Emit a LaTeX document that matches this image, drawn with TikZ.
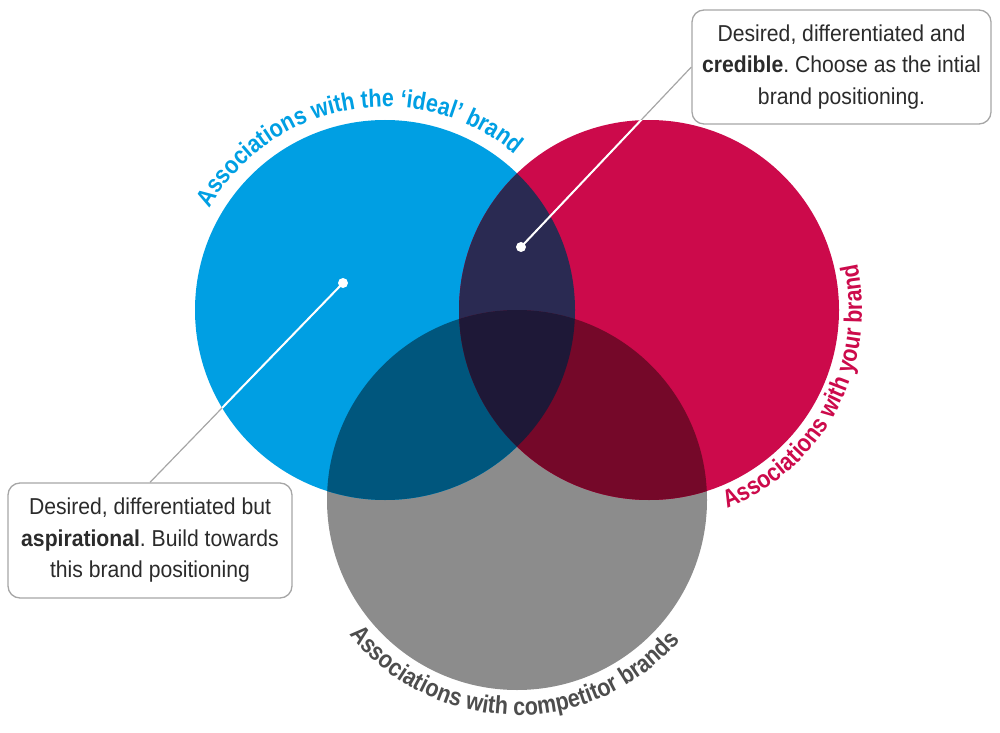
\documentclass[tikz,border=0pt]{standalone}
\usepackage{fontspec}
\setmainfont{Liberation Sans}
\newfontfamily\boxfont[FakeStretch=0.92]{Liberation Sans}
\newfontfamily\arcfont[FakeStretch=0.86]{Liberation Sans}
\usepackage{tikz}
\usetikzlibrary{decorations.text, positioning}
\frenchspacing

\definecolor{idealblue}{HTML}{009FE3}
\definecolor{yourred}{HTML}{CC0A4B}
\definecolor{rivalgray}{HTML}{8C8C8C}
\definecolor{bluered}{HTML}{2A2A52}
\definecolor{bluegray}{HTML}{00567D}
\definecolor{redgray}{HTML}{750829}
\definecolor{allthree}{HTML}{1E1837}
\definecolor{boxgray}{HTML}{A6A6A6}
\definecolor{textgray}{HTML}{2B2B2B}
\definecolor{labelgray}{HTML}{4D4D4D}

\tikzset{
  callout/.style={draw=boxgray, line width=1.3pt, rounded corners=12pt, fill=white,
    text=textgray, align=center, inner sep=4pt,
    font=\boxfont\fontsize{23}{31.5}\selectfont},
  leader/.style={draw=boxgray, line width=1.2pt},
  inleader/.style={draw=white, line width=2pt},
  arclabel/.style={decorate, decoration={text along path, text align=center,
    text color=#1}},
}

\begin{document}
\begin{tikzpicture}[x=1pt, y=1pt]
  \useasboundingbox (0,0) rectangle (1000,732);

  \coordinate (ideal) at (385,422);
  \coordinate (yours) at (649,422);
  \coordinate (rival) at (517,232);

  % the three sets
  \fill[rivalgray] (rival) circle[radius=190];
  \fill[idealblue] (ideal) circle[radius=190];
  \fill[yourred] (yours) circle[radius=190];
  \begin{scope}
    \clip (ideal) circle[radius=190];
    \fill[bluered] (yours) circle[radius=190];
    \fill[bluegray] (rival) circle[radius=190];
  \end{scope}
  \begin{scope}
    \clip (yours) circle[radius=190];
    \fill[redgray] (rival) circle[radius=190];
  \end{scope}
  \begin{scope}
    \clip (ideal) circle[radius=190];
    \clip (yours) circle[radius=190];
    \fill[allthree] (rival) circle[radius=190];
  \end{scope}

  % curved labels
  \path[arclabel=idealblue, decoration={text={|\arcfont\fontsize{25}{28}\selectfont\bfseries|Associations with the ‘ideal’ brand}}]
    (ideal) ++(160:203) arc[start angle=160, end angle=40, radius=203];
  \path[arclabel=yourred, decoration={text={|\arcfont\fontsize{25}{28}\selectfont\bfseries|Associations with your brand}}]
    (yours) ++(-90:213) arc[start angle=-90, end angle=34, radius=213];
  \path[arclabel=labelgray, decoration={text={|\arcfont\fontsize{25}{28}\selectfont\bfseries|Associations with competitor brands}}]
    (rival) ++(205:215) arc[start angle=205, end angle=333, radius=215];

  % callouts
  \node[callout, minimum width=299, minimum height=114] (credible) at (841.5,665)
    {Desired, differentiated and\\\textbf{credible}. Choose as the intial\\brand positioning.};
  \node[callout, minimum width=284, minimum height=115] (aspire) at (150,191.5)
    {Desired, differentiated but\\\textbf{aspirational}. Build towards\\this brand positioning};

  \coordinate (credspot) at (521,485);
  \coordinate (aspspot) at (343,449);

  \draw[leader] (credspot) -- (credible.west);
  \draw[leader] (aspspot) -- (aspire.north);
  \begin{scope}
    \clip (yours) circle[radius=190];
    \draw[inleader] (credspot) -- (credible.west);
  \end{scope}
  \begin{scope}
    \clip (ideal) circle[radius=190];
    \draw[inleader] (aspspot) -- (aspire.north);
  \end{scope}
  \fill[white] (credspot) circle[radius=5];
  \fill[white] (aspspot) circle[radius=5];
\end{tikzpicture}
\end{document}
